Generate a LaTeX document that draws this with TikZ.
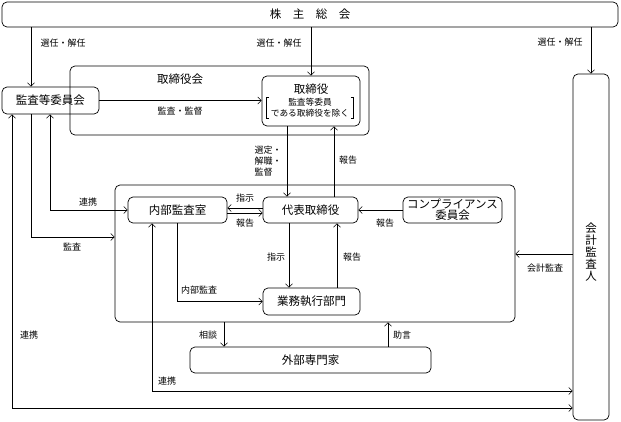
\documentclass[tikz,border=0pt]{standalone}
\usepackage{fontspec}
\setmainfont{Noto Sans CJK JP}
\usetikzlibrary{arrows.meta}
\begin{document}
\begin{tikzpicture}[x=1pt,y=-1pt,
 box/.style={draw,rounded corners=5pt,line width=0.7pt,inner sep=0pt,font=\fontsize{11.5}{13}\selectfont,align=center},
 big/.style={font=\fontsize{11.5}{13}\selectfont,inner sep=0pt,align=center},
 lbl/.style={font=\fontsize{9}{11}\selectfont,inner sep=0pt,align=center},
 arr/.style={line width=0.6pt,-{Straight Barb[length=3.5pt,width=7pt]}},
 barr/.style={line width=0.6pt,{Straight Barb[length=3.5pt,width=7pt]}-{Straight Barb[length=3.5pt,width=7pt]}}]
\useasboundingbox (0,0) rectangle (621,421);

% boxes
\node[box, minimum width=616pt, minimum height=25pt] (gm) at (310,14.5) {株　主　総　会};
\node[box, minimum width=299pt, minimum height=69pt] (board) at (219.5,100.5) {};
\node[big] (boardlbl) at (180,79) {取締役会};
\node[box, minimum width=97pt, minimum height=27pt] (acm) at (50.5,100.5) {監査等委員会};
\node[box, minimum width=98pt, minimum height=50pt] (dir) at (311,101) {};
\node[big] (dirt) at (311,89) {取締役};
\node[font=\fontsize{8.7}{11.5}\selectfont, align=center, inner xsep=4pt, inner ysep=0.5pt] (dirsub) at (310,107.5) {監査等委員\\である取締役を除く};
\draw[line width=0.5pt] ([xshift=2.5pt]dirsub.north west) -- (dirsub.north west) -- (dirsub.south west) -- ([xshift=2.5pt]dirsub.south west);
\draw[line width=0.5pt] ([xshift=-2.5pt]dirsub.north east) -- (dirsub.north east) -- (dirsub.south east) -- ([xshift=-2.5pt]dirsub.south east);

\node[box, minimum width=400pt, minimum height=137pt] (exec) at (315,253.5) {};
\node[box, minimum width=95pt, minimum height=26pt] (rep) at (310.5,210) {代表取締役};
\node[box, minimum width=99pt, minimum height=26pt, font=\fontsize{11.5}{11}\selectfont] (comp) at (452.5,210) {コンプライアンス\\委員会};
\node[box, minimum width=99pt, minimum height=26pt] (ia) at (177.5,210) {内部監査室};
\node[box, minimum width=97pt, minimum height=27pt] (ops) at (311.5,301.5) {業務執行部門};
\node[box, minimum width=241pt, minimum height=26pt] (ext) at (310.5,360) {外部専門家};
\node[box, minimum width=36pt, minimum height=346pt] (aud) at (591,247) {};
\node[font=\fontsize{11.5}{12}\selectfont, align=center, inner sep=0pt] (audt) at (591,252) {会\\計\\監\\査\\人};

% helper coordinates
\coordinate (xa) at (31,0);
\coordinate (xb) at (12,0);
\coordinate (xc) at (50,0);
\coordinate (xd) at (287,0);
\coordinate (xe) at (334,0);
\coordinate (xf) at (289,0);
\coordinate (xg) at (337,0);
\coordinate (xh) at (152,0);
\coordinate (xi) at (224,0);
\coordinate (xj) at (388,0);
\coordinate (ya) at (0,237);
\coordinate (yb) at (0,408);
\coordinate (yc) at (0,391);
\coordinate (yd) at (0,254);
\coordinate (ye) at (0,208);
\coordinate (yf) at (0,213);

% connectors
\draw[arr] (gm.south -| xa) -- (acm.north -| xa);
\draw[arr] (gm.south -| dir.north) -- (dir.north);
\draw[arr] (gm.south -| aud.north) -- (aud.north);
\draw[arr] (acm.east) -- (acm.east -| dir.west);
\draw[arr] (dir.south -| xd) -- (rep.north -| xd);
\draw[arr] (rep.north -| xe) -- (dir.south -| xe);
\draw[arr] (comp.west) -- (rep.east);
\draw[arr] (rep.west |- ye) -- (ia.east |- ye);
\draw[arr] (ia.east |- yf) -- (rep.west |- yf);
\draw[arr] (rep.south -| xf) -- (ops.north -| xf);
\draw[arr] (ops.north -| xg) -- (rep.south -| xg);
\draw[arr] (ia.south) |- (ops.west);
\draw[barr] (acm.south -| xc) |- (ia.west);
\draw[arr] (acm.south -| xa) |- (exec.west |- ya);
\draw[barr] (acm.south -| xb) |- (aud.west |- yb);
\draw[barr] (ia.south -| xh) |- (aud.west |- yc);
\draw[arr] (aud.west |- yd) -- (exec.east |- yd);
\draw[arr] (exec.south -| xi) -- (ext.north -| xi);
\draw[arr] (ext.north -| xj) -- (exec.south -| xj);

% labels
\node[lbl] (l1) at (63,43) {選任・解任};
\node[lbl] (l2) at (279,43) {選任・解任};
\node[lbl] (l3) at (560,42) {選任・解任};
\node[lbl] (l4) at (180,111) {監査・監督};
\node[lbl, align=left] (l5) at (268,161) {選定・\\解職・\\監督};
\node[lbl] (l6) at (348,160) {報告};
\node[lbl] (l7) at (245,198) {指示};
\node[lbl] (l8) at (245,223) {報告};
\node[lbl] (l9) at (385,223) {報告};
\node[lbl] (l10) at (276,257) {指示};
\node[lbl] (l11) at (352,257) {報告};
\node[lbl] (l12) at (199,290) {内部監査};
\node[lbl] (l13) at (88,202) {連携};
\node[lbl] (l14) at (72,247) {監査};
\node[lbl] (l15) at (29,335) {連携};
\node[lbl] (l16) at (208,335) {相談};
\node[lbl] (l17) at (402,335) {助言};
\node[lbl] (l18) at (167,381) {連携};
\node[lbl] (l19) at (545,268) {会計監査};
\end{tikzpicture}
\end{document}
